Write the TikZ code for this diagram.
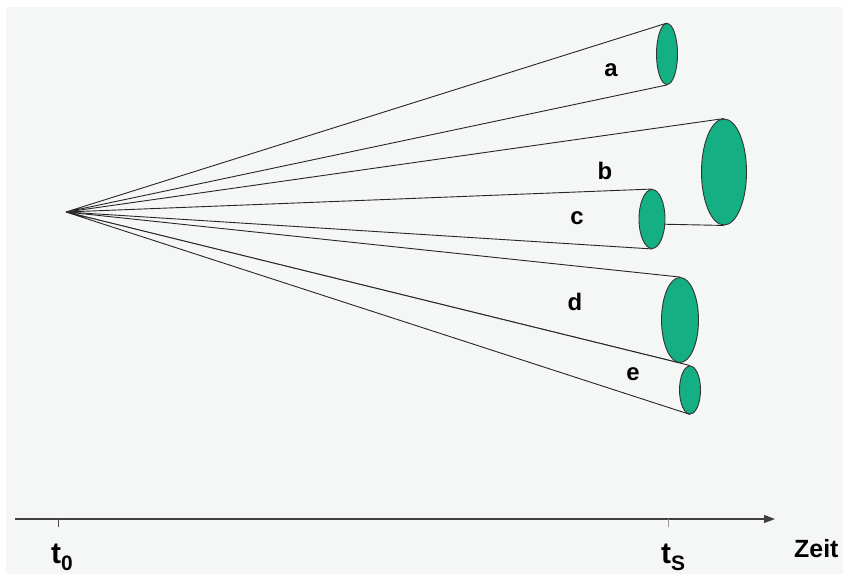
\documentclass[tikz,border=0pt]{standalone}
\usepackage{fontspec}
\setmainfont{Liberation Sans}
\usetikzlibrary{shapes.geometric,arrows.meta,backgrounds}
\definecolor{discgreen}{RGB}{20,176,132}
\definecolor{paper}{RGB}{245,247,246}

\begin{document}
\begin{tikzpicture}[
  x=1bp, y=-1bp,
  disc/.style={ellipse, draw=black!80, fill=discgreen, line width=0.9bp, inner sep=0pt},
  ray/.style={draw=black!85, line width=0.9bp},
  lbl/.style={font=\fontsize{24}{24}\selectfont\bfseries, anchor=base, inner sep=0pt},
  tlbl/.style={font=\fontsize{30}{30}\selectfont\bfseries, anchor=base west, inner sep=0pt},
  tick/.style={draw=black!70, line width=0.8bp}
]
\useasboundingbox (0,0) rectangle (843,574);

% discs at time t_S
\node[disc, minimum width=21bp, minimum height=61bp] (a) at (667,54) {};
\node[disc, minimum width=45bp, minimum height=106bp] (b) at (724,172) {};
\node[disc, minimum width=26bp, minimum height=59bp] (c) at (652,219) {};
\node[disc, minimum width=37bp, minimum height=85bp] (d) at (680,320) {};
\node[disc, minimum width=21bp, minimum height=48bp] (e) at (690,390) {};
\coordinate (o) at (66,212);

% cones, behind the discs
\begin{scope}[on background layer]
  \fill[paper] (6,7) rectangle (843,574);
  \foreach \k in {a,b,c,d,e} {
    \fill[paper] (o) -- (\k.north) -- (\k.south) -- cycle;
    \draw[ray] (o) -- (\k.north) (o) -- (\k.south);
  }
\end{scope}

\node[lbl] (la) at (611,77) {a};
\node[lbl] (lb) at (605,180) {b};
\node[lbl] (lc) at (577,225) {c};
\node[lbl] (ld) at (575,310) {d};
\node[lbl] (le) at (633,380) {e};

% time axis
\coordinate (ax0) at (15,519);
\coordinate (ax1) at (775,519);
\coordinate (p0) at (58,519);
\coordinate (pS) at (668,519);
\draw[black!75, line width=1.1bp, -{Triangle[length=11bp,width=8bp]}] (ax0) -- (ax1);
\draw[tick] (p0) -- ++(0,8);
\draw[tick, draw=black!40] (pS) -- ++(0,8);
\node[tlbl] (t0) at (51,563) {t\raisebox{-7bp}{\fontsize{21}{21}\selectfont 0}};
\node[tlbl] (tS) at (661,563) {t\raisebox{-7bp}{\fontsize{21}{21}\selectfont S}};
\node[tlbl, font=\fontsize{25}{25}\selectfont\bfseries] (zeit) at (794,557) {Zeit};
\end{tikzpicture}
\end{document}
